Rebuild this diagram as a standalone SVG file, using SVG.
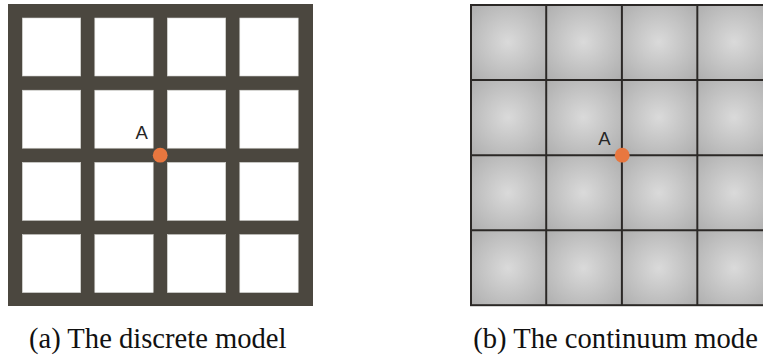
<svg xmlns="http://www.w3.org/2000/svg" width="763" height="356" viewBox="0 0 763 356">
  <defs>
    <radialGradient id="cellShade" cx="0.5" cy="0.5" r="0.71">
      <stop offset="0" stop-color="#dadada"/>
      <stop offset="1" stop-color="#adadad"/>
    </radialGradient>
    <style>
      .frame { fill: #4b473f; }
      .hole { fill: #ffffff; stroke: #d0d0cc; stroke-width: 0.6; }
      .cell { fill: url(#cellShade); }
      .line { stroke: #2b2826; stroke-width: 2; fill: none; }
      .dot { fill: #e8773f; }
      .lbl { font-family: "Liberation Sans", Arial, sans-serif; font-size: 18.5px; fill: #262626; }
      .cap { font-family: "Liberation Serif", "Times New Roman", serif; font-size: 28.6px; fill: #111111; }
    </style>
  </defs>

  <!-- (a) discrete lattice: dark bars with square openings -->
  <g id="discrete">
    <rect class="frame" x="8" y="4" width="305" height="302"/>
    <g id="discrete-holes">
      <rect class="hole" x="22.3" y="18" width="58.4" height="58"/>
      <rect class="hole" x="94.8" y="18" width="58.4" height="58"/>
      <rect class="hole" x="167.3" y="18" width="58.4" height="58"/>
      <rect class="hole" x="239.8" y="18" width="58.4" height="58"/>
      <rect class="hole" x="22.3" y="90.2" width="58.4" height="58"/>
      <rect class="hole" x="94.8" y="90.2" width="58.4" height="58"/>
      <rect class="hole" x="167.3" y="90.2" width="58.4" height="58"/>
      <rect class="hole" x="239.8" y="90.2" width="58.4" height="58"/>
      <rect class="hole" x="22.3" y="162.4" width="58.4" height="58"/>
      <rect class="hole" x="94.8" y="162.4" width="58.4" height="58"/>
      <rect class="hole" x="167.3" y="162.4" width="58.4" height="58"/>
      <rect class="hole" x="239.8" y="162.4" width="58.4" height="58"/>
      <rect class="hole" x="22.3" y="234.6" width="58.4" height="58"/>
      <rect class="hole" x="94.8" y="234.6" width="58.4" height="58"/>
      <rect class="hole" x="167.3" y="234.6" width="58.4" height="58"/>
      <rect class="hole" x="239.8" y="234.6" width="58.4" height="58"/>
    </g>
    <g id="discrete-A">
      <circle class="dot" cx="160.2" cy="155.2" r="7.4"/>
      <text class="lbl" x="135.5" y="139.3">A</text>
    </g>
  </g>

  <!-- (b) continuum: shaded cells separated by thin lines -->
  <g id="continuum">
    <g id="continuum-cells">
      <rect class="cell" x="470.3" y="4.3" width="75.4" height="75.4"/>
      <rect class="cell" x="545.7" y="4.3" width="75.4" height="75.4"/>
      <rect class="cell" x="621.1" y="4.3" width="75.4" height="75.4"/>
      <rect class="cell" x="696.5" y="4.3" width="75.4" height="75.4"/>
      <rect class="cell" x="470.3" y="79.7" width="75.4" height="75.4"/>
      <rect class="cell" x="545.7" y="79.7" width="75.4" height="75.4"/>
      <rect class="cell" x="621.1" y="79.7" width="75.4" height="75.4"/>
      <rect class="cell" x="696.5" y="79.7" width="75.4" height="75.4"/>
      <rect class="cell" x="470.3" y="155.1" width="75.4" height="75.4"/>
      <rect class="cell" x="545.7" y="155.1" width="75.4" height="75.4"/>
      <rect class="cell" x="621.1" y="155.1" width="75.4" height="75.4"/>
      <rect class="cell" x="696.5" y="155.1" width="75.4" height="75.4"/>
      <rect class="cell" x="470.3" y="230.5" width="75.4" height="75.4"/>
      <rect class="cell" x="545.7" y="230.5" width="75.4" height="75.4"/>
      <rect class="cell" x="621.1" y="230.5" width="75.4" height="75.4"/>
      <rect class="cell" x="696.5" y="230.5" width="75.4" height="75.4"/>
    </g>
    <g id="continuum-lines">
      <rect class="line" x="471" y="5" width="302" height="300.2" stroke-width="2.4"/>
      <line class="line" x1="546.2" y1="5" x2="546.2" y2="305"/>
      <line class="line" x1="621.9" y1="5" x2="621.9" y2="305"/>
      <line class="line" x1="697.3" y1="5" x2="697.3" y2="305"/>
      <line class="line" x1="471" y1="80" x2="763" y2="80"/>
      <line class="line" x1="471" y1="155.2" x2="763" y2="155.2"/>
      <line class="line" x1="471" y1="230.2" x2="763" y2="230.2"/>
    </g>
    <g id="continuum-A">
      <circle class="dot" cx="622.2" cy="155.2" r="7.4"/>
      <text class="lbl" x="598.3" y="144.6">A</text>
    </g>
  </g>

  <!-- sub-figure captions -->
  <g id="captions">
    <text class="cap" x="29" y="348">(a) The discrete model</text>
    <text class="cap" x="473.3" y="348">(b) The continuum mode</text>
  </g>
</svg>
